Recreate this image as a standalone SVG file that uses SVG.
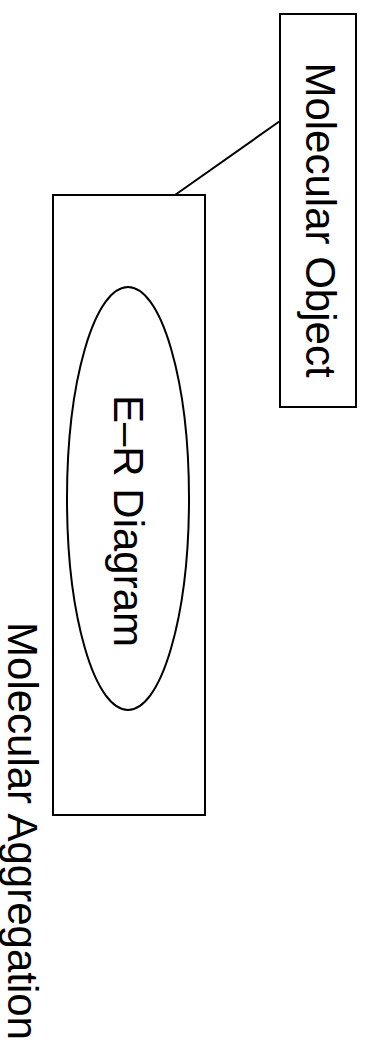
<svg xmlns="http://www.w3.org/2000/svg" width="368" height="1047" viewBox="0 0 368 1047">
<style>
.shape{fill:#fff;stroke:#000;stroke-width:2}
.lbl{font-family:"Liberation Sans",Arial,sans-serif;font-size:42px;fill:#000;text-anchor:middle}
.conn{stroke:#000;stroke-width:2;fill:none}
</style>
<rect width="368" height="1047" fill="#fff"/>
<g id="connectors">
<line class="conn" x1="175" y1="195" x2="280" y2="121"/>
</g>
<g id="molecular-aggregation">
<rect class="shape" x="53" y="195" width="152" height="620"/>
<text class="lbl" transform="translate(8,831) rotate(90)">Molecular Aggregation</text>
</g>
<g id="er-diagram">
<ellipse class="shape" cx="128" cy="498.5" rx="61" ry="211.5"/>
<text class="lbl" transform="translate(114,521) rotate(90)">E–R Diagram</text>
</g>
<g id="molecular-object">
<rect class="shape" x="280" y="14" width="76" height="393"/>
<text class="lbl" transform="translate(306,220) rotate(90)">Molecular Object</text>
</g>
</svg>
